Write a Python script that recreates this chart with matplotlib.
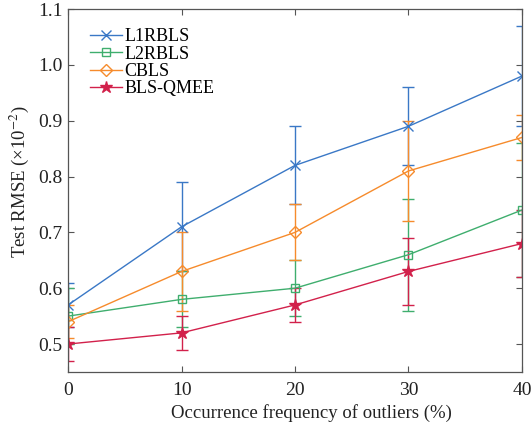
import numpy as np
import matplotlib
matplotlib.use('Agg')
import matplotlib.pyplot as plt

plt.rcParams['font.family'] = ['Liberation Serif', 'DejaVu Serif']
plt.rcParams['mathtext.fontset'] = 'stix'

# data
freq = [0, 10, 20, 30, 40]

l1rbls = [0.57, 0.71, 0.82, 0.89, 0.98]
l1rbls_err = [0.04, 0.08, 0.07, 0.07, 0.09]

l2rbls = [0.55, 0.58, 0.60, 0.66, 0.74]
l2rbls_err = [0.05, 0.05, 0.05, 0.10, 0.12]

cbls = [0.54, 0.63, 0.70, 0.81, 0.87]
cbls_err = [0.03, 0.07, 0.05, 0.09, 0.04]

qmee = [0.50, 0.52, 0.57, 0.63, 0.68]
qmee_err = [0.03, 0.03, 0.03, 0.06, 0.06]

names = ["L1RBLS", "L2RBLS", "CBLS", "BLS-QMEE"]


fig = plt.figure(figsize=(5.32, 4.33), dpi=100)
ax = fig.add_axes([0.128, 0.141, 0.853, 0.838])

series = [
    (l1rbls, l1rbls_err, '#3a78c6', 'x', 7),
    (l2rbls, l2rbls_err, '#3fae6e', 's', 6),
    (cbls, cbls_err, '#f68b2c', 'D', 6),
    (qmee, qmee_err, '#d2214b', '*', 9),
]

handles = []
for (vals, err, c, m, ms), name in zip(series, names):
    fill = c if m == '*' else 'none'
    cont = ax.errorbar(freq, vals, yerr=err, color=c, marker=m, ms=ms, mfc=fill,
                       mec=c, mew=1.0, lw=1.0, elinewidth=1.0, capsize=4, capthick=1.0,
                       label=name)
    handles.append(cont[0])

ax.set_xlim([0, 40])
ax.set_ylim([0.45, 1.1])
ax.set_xticks([0, 10, 20, 30, 40])
ax.set_yticks([0.5, 0.6, 0.7, 0.8, 0.9, 1.0, 1.1])
ax.set_yticklabels(["%.1f" % v for v in [0.5, 0.6, 0.7, 0.8, 0.9, 1.0, 1.1]])

ax.tick_params(direction='in', top=True, right=True, length=4, width=0.8,
               color='#555555', labelsize=14, labelcolor='#222222')
ax.tick_params(axis='y', pad=3.8)
ax.tick_params(axis='x', pad=7)
for sp in ax.spines.values():
    sp.set_color('#555555')
    sp.set_linewidth(0.9)

ax.set_xlabel("Occurrence frequency of outliers (%)", fontsize=13.5, color='#222222', labelpad=4)
ax.set_ylabel("Test RMSE (×10$^{-2}$)", fontsize=13.5, color='#222222', labelpad=5.5)
ax.xaxis.label.set_x(0.537)
ax.yaxis.label.set_y(0.523)

leg = ax.legend(handles=handles, labels=names, loc='upper left', frameon=False,
                fontsize=13, handlelength=1.75, handletextpad=0.15, labelspacing=0.02,
                borderaxespad=0.0, borderpad=0.0, bbox_to_anchor=(0.049, 0.947))

fig.savefig("out.png", dpi=100)
